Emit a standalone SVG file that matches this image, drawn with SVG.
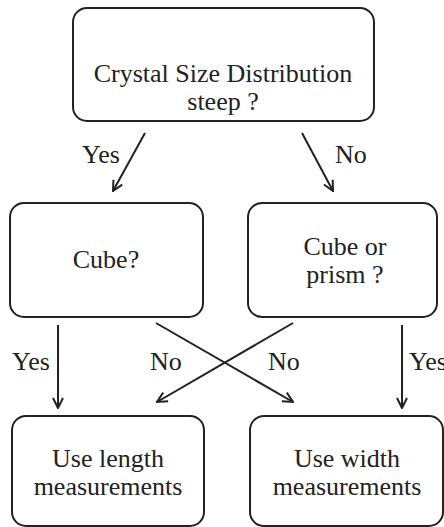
<svg xmlns="http://www.w3.org/2000/svg" width="444" height="527" viewBox="0 0 444 527">
<style>
.box{fill:#fff;stroke:#222;stroke-width:2}
text{font-family:'Liberation Serif','Times New Roman',Times,serif;font-size:26px;fill:#222}
.t{text-anchor:middle}
.c{stroke:#222;stroke-width:2;fill:none;marker-end:url(#ah)}
</style>
<defs>
<marker id="ah" viewBox="0 0 12 12" refX="11" refY="6" markerWidth="12" markerHeight="12" markerUnits="userSpaceOnUse" orient="auto">
<path d="M1,1 L11,6 L1,11" fill="none" stroke="#222" stroke-width="2"/>
</marker>
</defs>
<g id="n1"><rect class="box" x="73" y="8" width="301" height="113" rx="14"/>
<text class="t" x="223" y="82">Crystal Size Distribution</text>
<text class="t" x="223" y="110">steep ?</text></g>
<g id="n2"><rect class="box" x="10" y="203" width="193" height="114" rx="14"/>
<text class="t" x="106" y="268">Cube?</text></g>
<g id="n3"><rect class="box" x="248" y="203" width="189" height="114" rx="14"/>
<text class="t" x="345" y="255">Cube or</text>
<text class="t" x="345" y="283">prism ?</text></g>
<g id="n4"><rect class="box" x="12" y="416" width="192" height="110" rx="14"/>
<text class="t" x="108" y="467">Use length</text>
<text class="t" x="108" y="495">measurements</text></g>
<g id="n5"><rect class="box" x="250" y="416" width="193" height="110" rx="14"/>
<text class="t" x="347" y="467">Use width</text>
<text class="t" x="347" y="495">measurements</text></g>
<g id="connectors">
<line class="c" x1="145" y1="133" x2="113" y2="191"/>
<line class="c" x1="302" y1="133" x2="333" y2="191"/>
<line class="c" x1="58" y1="325" x2="58" y2="408"/>
<line class="c" x1="402" y1="325" x2="402" y2="408"/>
<line class="c" x1="156" y1="323" x2="293" y2="402"/>
<line class="c" x1="293" y1="323" x2="157" y2="402"/>
</g>
<g id="labels">
<text x="82" y="163">Yes</text>
<text x="335" y="163">No</text>
<text x="12" y="370">Yes</text>
<text x="150" y="370">No</text>
<text x="268" y="370">No</text>
<text x="409" y="370">Yes</text>
</g>
</svg>
